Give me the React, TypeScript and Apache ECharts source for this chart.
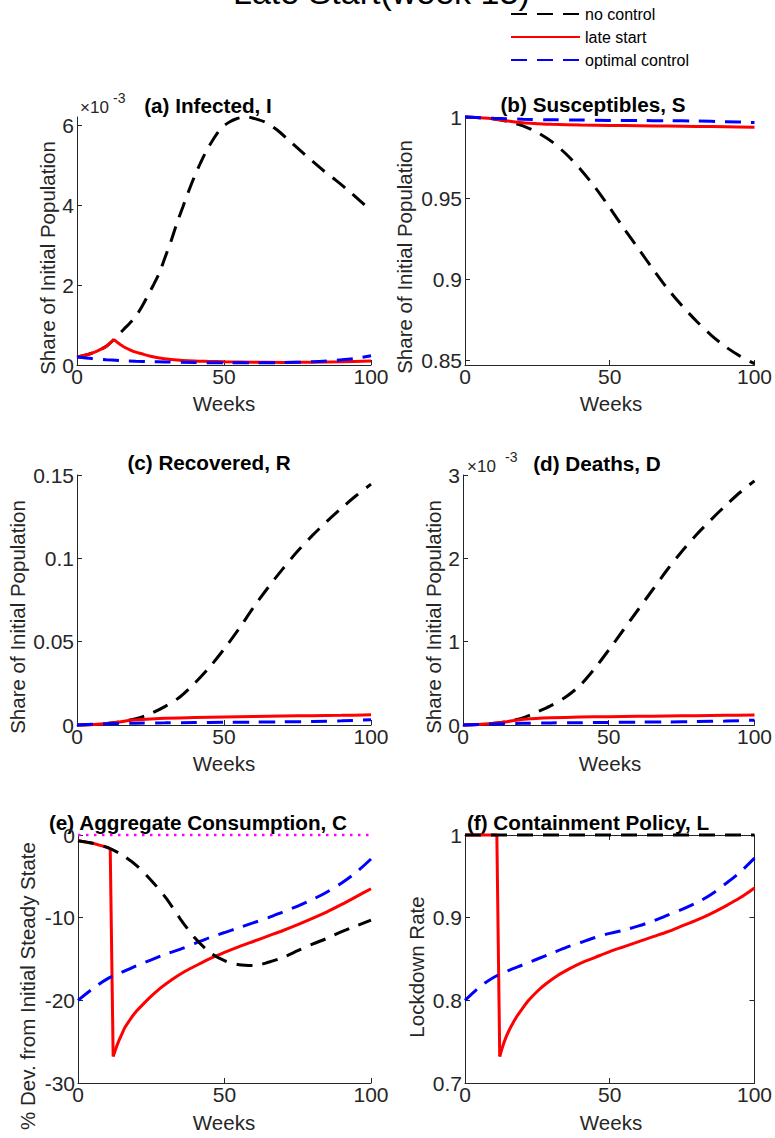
import React, { useEffect, useRef } from "react";
import * as echarts from "echarts";

// ---------------- data ----------------
const weeks5 = [0, 5, 10, 15, 20, 25, 30, 35, 40, 45, 50, 55, 60, 65, 70, 75, 80, 85, 90, 95, 100];
const weeks10 = [0, 10, 20, 30, 40, 50, 60, 70, 80, 90, 100];
const xTicks = [0, 50, 100];

// (a) Infected, I  (units of 1e-3)
const iBlackWeeks = [0, 2, 4, 6, 8, 10, 12, 14, 16, 18, 20, 22, 24, 26, 28, 30, 32, 34, 36, 38, 40, 42, 44, 46, 48, 50, 52, 54, 56, 58, 60, 64, 68, 72, 76, 80, 84, 88, 92, 96, 100];
const iBlack = [0.2, 0.23, 0.27, 0.32, 0.39, 0.47, 0.6, 0.75, 0.9, 1.05, 1.22, 1.45, 1.72, 2.0, 2.3, 2.7, 3.1, 3.55, 3.95, 4.35, 4.72, 5.05, 5.35, 5.6, 5.82, 5.98, 6.08, 6.15, 6.19, 6.2, 6.17, 6.07, 5.88, 5.62, 5.36, 5.1, 4.85, 4.62, 4.38, 4.12, 3.86];
const iRedWeeks = [0, 2, 4, 6, 8, 10, 12, 12.5, 13, 14, 15, 16, 18, 20, 22, 25, 28, 32, 36, 40, 45, 50, 60, 70, 80, 90, 100];
const iRed = [0.2, 0.23, 0.27, 0.32, 0.39, 0.47, 0.6, 0.64, 0.61, 0.55, 0.5, 0.45, 0.38, 0.32, 0.28, 0.22, 0.175, 0.14, 0.115, 0.1, 0.09, 0.08, 0.07, 0.065, 0.07, 0.08, 0.1];
const iRedCusp = 7; // index of the week-12.5 peak
const iBlueWeeks = [0, 5, 10, 15, 20, 25, 30, 40, 50, 60, 70, 80, 85, 90, 95, 100];
const iBlue = [0.2, 0.16, 0.13, 0.11, 0.095, 0.085, 0.075, 0.062, 0.055, 0.055, 0.06, 0.08, 0.1, 0.13, 0.17, 0.23];
const yTicksA = [0, 2, 4, 6];

// (b) Susceptibles, S
const sBlack = [1.0, 0.9996, 0.9988, 0.9972, 0.9945, 0.9905, 0.9848, 0.977, 0.9675, 0.9565, 0.944, 0.931, 0.9185, 0.906, 0.894, 0.8835, 0.874, 0.8655, 0.8583, 0.8525, 0.8478];
const sRedWeeks = [0, 4, 8, 12, 16, 20, 25, 30, 40, 50, 60, 70, 80, 90, 100];
const sRed = [1.0, 0.9997, 0.9992, 0.9983, 0.9972, 0.9964, 0.9959, 0.9955, 0.9951, 0.9948, 0.9946, 0.9944, 0.9942, 0.994, 0.9937];
const sBlue = [1.0, 0.9992, 0.9986, 0.9983, 0.9981, 0.9979, 0.9978, 0.9977, 0.9975, 0.9971, 0.9966];
const yTicksB = [0.85, 0.9, 0.95, 1];

// (c) Recovered, R
const rBlack = [0, 0.0003, 0.0009, 0.002, 0.0038, 0.0068, 0.0112, 0.0168, 0.025, 0.0345, 0.0455, 0.0575, 0.0705, 0.0825, 0.0937, 0.1042, 0.1136, 0.1222, 0.1302, 0.1377, 0.1445];
const rRedWeeks = [0, 4, 8, 12, 16, 19, 25, 30, 40, 50, 60, 70, 80, 90, 100];
const rRed = [0, 0.0002, 0.0006, 0.0012, 0.0022, 0.003, 0.0036, 0.004, 0.0045, 0.0048, 0.0051, 0.0054, 0.0056, 0.0058, 0.0061];
const rBlue = [0, 0.0007, 0.0011, 0.0013, 0.0015, 0.0016, 0.0017, 0.0019, 0.0021, 0.0025, 0.0031];
const yTicksC = [0, 0.05, 0.1, 0.15];

// (d) Deaths, D (units of 1e-3)
const dBlack = [0, 0.006, 0.018, 0.04, 0.08, 0.15, 0.23, 0.33, 0.47, 0.67, 0.9, 1.14, 1.38, 1.62, 1.86, 2.08, 2.28, 2.46, 2.63, 2.79, 2.93];
const dRedWeeks = [0, 5, 10, 15, 20, 25, 30, 40, 50, 60, 70, 80, 90, 100];
const dRed = [0, 0.005, 0.018, 0.04, 0.065, 0.078, 0.086, 0.095, 0.1, 0.104, 0.108, 0.112, 0.116, 0.12];
const dBlue = [0, 0.012, 0.02, 0.025, 0.028, 0.031, 0.034, 0.037, 0.041, 0.047, 0.058];
const yTicksD = [0, 1, 2, 3];

// (e) Aggregate Consumption, C (% dev.)
const cBlack = [-0.7, -1.0, -1.5, -2.4, -3.7, -5.5, -7.6, -10.2, -12.5, -14.2, -15.2, -15.7, -15.8, -15.4, -14.8, -14.0, -13.2, -12.5, -11.7, -11.0, -10.3];
const cRedWeeks = [0, 5, 10, 11, 12, 13, 14, 15, 16, 18, 20, 22, 25, 28, 32, 36, 40, 45, 50, 55, 60, 65, 70, 75, 80, 85, 90, 95, 100];
const cRed = [-0.7, -1.0, -1.5, -1.7, -26.8, -25.75, -24.85, -24.05, -23.3, -22.2, -21.3, -20.55, -19.5, -18.55, -17.5, -16.6, -15.85, -14.95, -14.2, -13.5, -12.85, -12.2, -11.55, -10.85, -10.1, -9.3, -8.4, -7.45, -6.5];
const cRedCusp = 4; // index of the week-12 trough
const cBlue = [-20, -18.6, -17.4, -16.6, -15.8, -15.1, -14.4, -13.8, -13.1, -12.4, -11.8, -11.2, -10.6, -10.0, -9.3, -8.6, -7.8, -6.9, -5.8, -4.5, -2.9];
const zeroWeeks = [0, 100];
const zeroLine = [0, 0];
const yTicksE = [-30, -20, -10, 0];

// (f) Containment Policy, L
const lBlackWeeks = [0, 100];
const lBlack = [1, 1];
const lRedWeeks = [0, 5, 10, 11, 12, 13, 14, 15, 16, 18, 20, 22, 25, 28, 32, 36, 40, 45, 50, 55, 60, 65, 70, 75, 80, 85, 90, 95, 100];
const lRed = [1, 1, 1, 1, 0.732, 0.744, 0.754, 0.762, 0.769, 0.781, 0.791, 0.8, 0.811, 0.82, 0.83, 0.838, 0.845, 0.852, 0.859, 0.865, 0.871, 0.877, 0.883, 0.89, 0.897, 0.905, 0.914, 0.924, 0.936];
const lRedCusp = 4;
const lBlue = [0.8, 0.816, 0.828, 0.836, 0.843, 0.85, 0.857, 0.864, 0.87, 0.876, 0.881, 0.885, 0.89, 0.896, 0.903, 0.91, 0.918, 0.928, 0.941, 0.955, 0.972];
const yTicksF = [0.7, 0.8, 0.9, 1];

const seriesNames = ["no control", "late start", "optimal control"];

// ---------------- styling ----------------
const FONT = "'Liberation Sans', Arial, Helvetica, sans-serif";
const AX = "#262626";
const BLACK = "#000000";
const RED = "#FF0000";
const BLUE = "#0000FF";
const MAGENTA = "#FF00FF";
const DASH = [16, 10];

type Box = [number, number, number, number];
const boxes: Box[] = [
  [77, 117, 294, 248],
  [465, 117, 292, 248],
  [77, 475, 294, 250],
  [463, 475, 295, 250],
  [78, 835, 293, 248],
  [465, 835, 292, 248],
];
const yRanges: [number, number][] = [
  [0, 6.2],
  [0.847, 1],
  [0, 0.15],
  [0, 3],
  [-30, 0],
  [0.7, 1],
];
const yTickSets = [yTicksA, yTicksB, yTicksC, yTicksD, yTicksE, yTicksF];

function pairs(xs: number[], ys: number[]) {
  return xs.map((x, i) => [x, ys[i]]);
}

function mk(name: string, xs: number[], ys: number[], color: string, dashed: boolean, idx: number, smooth: number | boolean, width = 3, dashArr?: number[]) {
  return {
    type: "line",
    name,
    xAxisIndex: idx,
    yAxisIndex: idx,
    data: pairs(xs, ys),
    showSymbol: false,
    symbol: "none",
    clip: false,
    smooth,
    silent: true,
    lineStyle: { color, width, type: dashed ? (dashArr || DASH) : "solid", cap: "butt" },
    itemStyle: { color },
    emphasis: { disabled: true },
  };
}

// a red line with a kink: straight drop/peak, smooth elsewhere
function mkKinked(name: string, xs: number[], ys: number[], cusp: number, idx: number, smoothBefore: number | boolean) {
  return [
    mk(name, xs.slice(0, cusp + 1), ys.slice(0, cusp + 1), RED, false, idx, smoothBefore),
    mk(name, xs.slice(cusp), ys.slice(cusp), RED, false, idx, 0.3),
  ];
}

function txt(text: string, x: number, y: number, size: number, opts: any = {}) {
  return {
    type: "text",
    x,
    y,
    rotation: opts.rotation || 0,
    silent: true,
    style: {
      text,
      fontSize: size,
      fontWeight: opts.bold ? "bold" : "normal",
      fontFamily: FONT,
      fill: opts.color || AX,
      align: opts.align || "center",
      verticalAlign: "middle",
      textAlign: opts.align || "center",
      textVerticalAlign: "middle",
    },
  };
}

function buildOption() {
  const grid = boxes.map((b) => ({ left: b[0], top: b[1], width: b[2], height: b[3] }));
  const axisLine = { show: true, onZero: false, lineStyle: { color: AX, width: 1 } };
  const xAxis: any[] = boxes.map((_, i) => ({
    type: "value",
    gridIndex: i,
    min: 0,
    max: 100,
    axisLine,
    axisTick: { show: true, inside: true, length: 5, customValues: xTicks, lineStyle: { color: AX } },
    axisLabel: { show: true, customValues: xTicks, fontSize: 21, color: AX, fontFamily: FONT, margin: 1 },
    splitLine: { show: false },
  }));
  const yAxis: any[] = boxes.map((_, i) => ({
    type: "value",
    gridIndex: i,
    min: yRanges[i][0],
    max: yRanges[i][1],
    axisLine,
    axisTick: { show: true, inside: true, length: 5, customValues: yTickSets[i], lineStyle: { color: AX } },
    axisLabel: { show: true, customValues: yTickSets[i], fontSize: 21, color: AX, fontFamily: FONT, margin: 3 },
    splitLine: { show: false },
  }));
  // box for panel (f)
  xAxis.push({
    type: "value",
    gridIndex: 5,
    position: "top",
    min: 0,
    max: 100,
    axisLine,
    axisTick: { show: true, inside: true, length: 5, customValues: xTicks, lineStyle: { color: AX } },
    axisLabel: { show: false },
    splitLine: { show: false },
  });
  yAxis.push({
    type: "value",
    gridIndex: 5,
    position: "right",
    min: 0.7,
    max: 1,
    axisLine,
    axisTick: { show: true, inside: true, length: 5, customValues: yTicksF, lineStyle: { color: AX } },
    axisLabel: { show: false },
    splitLine: { show: false },
  });

  const [nc, ls, oc] = seriesNames;
  const series: any[] = [
    // (a)
    mk(nc, iBlackWeeks, iBlack, BLACK, true, 0, 0.3),
    ...mkKinked(ls, iRedWeeks, iRed, iRedCusp, 0, 0.3),
    mk(oc, iBlueWeeks, iBlue, BLUE, true, 0, 0.3),
    // (b)
    mk(nc, weeks5, sBlack, BLACK, true, 1, 0.3),
    mk(ls, sRedWeeks, sRed, RED, false, 1, 0.3),
    mk(oc, weeks10, sBlue, BLUE, true, 1, 0.3),
    // (c)
    mk(nc, weeks5, rBlack, BLACK, true, 2, 0.3),
    mk(ls, rRedWeeks, rRed, RED, false, 2, 0.3),
    mk(oc, weeks10, rBlue, BLUE, true, 2, 0.3),
    // (d)
    mk(nc, weeks5, dBlack, BLACK, true, 3, 0.3),
    mk(ls, dRedWeeks, dRed, RED, false, 3, 0.3),
    mk(oc, weeks10, dBlue, BLUE, true, 3, 0.3),
    // (e)
    mk("steady state", zeroWeeks, zeroLine, MAGENTA, true, 4, false, 2.5, [2.5, 5.5]),
    ...mkKinked(ls, cRedWeeks, cRed, cRedCusp, 4, false),
    mk(oc, weeks5, cBlue, BLUE, true, 4, 0.3),
    mk(nc, weeks5, cBlack, BLACK, true, 4, 0.3),
    // (f)
    ...mkKinked(ls, lRedWeeks, lRed, lRedCusp, 5, false),
    mk(oc, weeks5, lBlue, BLUE, true, 5, 0.3),
    mk(nc, lBlackWeeks, lBlack, BLACK, true, 5, false),
  ];

  const graphic: any[] = [
    // panel titles
    txt("(a) Infected, I", 208, 105, 20.7, { bold: true, color: "#000" }),
    txt("(b) Susceptibles, S", 593, 104, 20.7, { bold: true, color: "#000" }),
    txt("(c) Recovered, R", 209, 462, 20.7, { bold: true, color: "#000" }),
    txt("(d) Deaths, D", 597, 463, 20.7, { bold: true, color: "#000" }),
    txt("(e) Aggregate Consumption, C", 198, 822, 20.7, { bold: true, color: "#000" }),
    txt("(f) Containment Policy, L", 588, 822, 20.7, { bold: true, color: "#000" }),
    // y-axis names
    txt("Share of Initial Population", 47, 258, 20.5, { rotation: Math.PI / 2 }),
    txt("Share of Initial Population", 404, 257, 20.5, { rotation: Math.PI / 2 }),
    txt("Share of Initial Population", 17, 617, 20.5, { rotation: Math.PI / 2 }),
    txt("Share of Initial Population", 433, 617, 20.5, { rotation: Math.PI / 2 }),
    txt("% Dev. from Initial Steady State", 27, 986, 20.5, { rotation: Math.PI / 2 }),
    txt("Lockdown Rate", 416, 967, 20.5, { rotation: Math.PI / 2 }),
    // x-axis names
    txt("Weeks", 224, 403, 20.5),
    txt("Weeks", 611, 403, 20.5),
    txt("Weeks", 224, 763, 20.5),
    txt("Weeks", 610, 763, 20.5),
    txt("Weeks", 224, 1122, 20.5),
    txt("Weeks", 611, 1122, 20.5),
    // exponent labels
    txt("×10", 80, 107, 17, { align: "left" }),
    txt("-3", 113, 98, 14, { align: "left" }),
    txt("×10", 467, 466, 17, { align: "left" }),
    txt("-3", 505, 457, 14, { align: "left" }),
  ];

  return {
    animation: false,
    backgroundColor: "#ffffff",
    title: [
      {
        text: "Late Start(week 13)",
        left: 233,
        top: -25,
        padding: 0,
        textStyle: { fontSize: 34, fontWeight: "normal", color: "#000", fontFamily: FONT },
      },
    ],
    legend: {
      data: seriesNames,
      orient: "vertical",
      left: 510,
      top: 6,
      padding: 0,
      itemWidth: 69,
      itemHeight: 14,
      itemGap: 7,
      selectedMode: false,
      itemStyle: { opacity: 0, borderWidth: 0 },
      textStyle: { fontSize: 16, fontFamily: FONT, color: "#000" },
    },
    grid,
    xAxis,
    yAxis,
    series,
    graphic,
  };
}

export default function App() {
  const ref = useRef<HTMLDivElement>(null);
  useEffect(() => {
    const chart = echarts.init(ref.current!, null, { renderer: "svg" });
    chart.setOption(buildOption() as any);
    return () => chart.dispose();
  }, []);
  return (
    <div
      ref={ref}
      style={{ position: "absolute", left: 0, top: 0, width: 775, height: 1138, background: "#fff" }}
    />
  );
}
